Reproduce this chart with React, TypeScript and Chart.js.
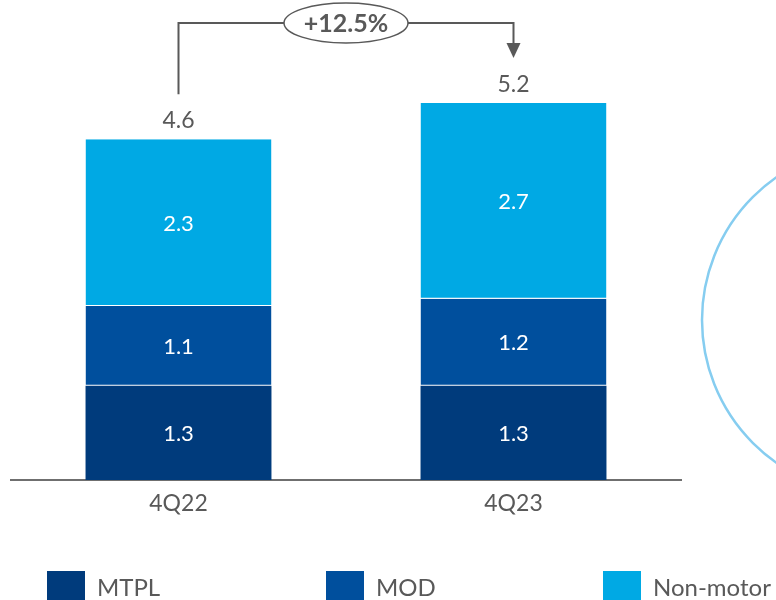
import React, { useEffect, useRef } from "react";
import { Chart, registerables } from "chart.js";

Chart.register(...registerables);

// Quarterly premiums by line of business
const categories = ["4Q22", "4Q23"];
const mtpl = [1.3, 1.3];
const mod = [1.1, 1.2];
const nonMotor = [2.3, 2.7];
const totals = [4.6, 5.2];
const growthLabel = "+12.5%";
const seriesNames = ["MTPL", "MOD", "Non-motor"];
const seriesColors = ["#003b7c", "#004f9d", "#00a9e4"];

const FONT = "Lato, 'Open Sans', sans-serif";
const GREY = "#595959";

const overlay = {
  id: "overlay",
  afterDatasetsDraw(chart: any) {
    const ctx = chart.ctx as CanvasRenderingContext2D;
    const metas = chart.data.datasets.map((_: any, i: number) => chart.getDatasetMeta(i));

    ctx.save();
    // values inside each segment
    ctx.font = `22px ${FONT}`;
    ctx.fillStyle = "#ffffff";
    ctx.textAlign = "center";
    ctx.textBaseline = "middle";
    metas.forEach((meta: any, di: number) => {
      meta.data.forEach((bar: any, j: number) => {
        const v = chart.data.datasets[di].data[j];
        ctx.fillText(v.toFixed(1), bar.x, (bar.y + bar.base) / 2 + 1);
      });
    });

    // totals above each stack
    const topMeta = metas[metas.length - 1];
    const tops: number[] = topMeta.data.map((b: any) => b.y);
    const xs: number[] = topMeta.data.map((b: any) => b.x);
    ctx.font = `23px ${FONT}`;
    ctx.fillStyle = GREY;
    ctx.textBaseline = "alphabetic";
    totals.forEach((t, j) => {
      ctx.fillText(t.toFixed(1), xs[j], tops[j] - 11);
    });

    // growth bracket
    const lineY = 23;
    const gap = 45;
    ctx.strokeStyle = GREY;
    ctx.fillStyle = GREY;
    ctx.lineWidth = 2;
    const arrowH = 15;
    const tipY = tops[1] - gap;
    ctx.beginPath();
    ctx.moveTo(xs[0], tops[0] - gap);
    ctx.lineTo(xs[0], lineY);
    ctx.lineTo(xs[1], lineY);
    ctx.lineTo(xs[1], tipY - arrowH);
    ctx.stroke();
    ctx.beginPath();
    ctx.moveTo(xs[1] - 7, tipY - arrowH);
    ctx.lineTo(xs[1] + 7, tipY - arrowH);
    ctx.lineTo(xs[1], tipY);
    ctx.closePath();
    ctx.fill();

    const mx = (xs[0] + xs[1]) / 2;
    ctx.beginPath();
    ctx.ellipse(mx, lineY, 62, 20, 0, 0, Math.PI * 2);
    ctx.fillStyle = "#ffffff";
    ctx.fill();
    ctx.lineWidth = 1.5;
    ctx.stroke();
    ctx.fillStyle = GREY;
    ctx.font = `bold 25px ${FONT}`;
    ctx.textBaseline = "middle";
    ctx.fillText(growthLabel, mx, lineY + 1);

    // decorative outline circle on the right
    ctx.beginPath();
    ctx.arc(876, 320, 174, 0, Math.PI * 2);
    ctx.strokeStyle = "#86cdf0";
    ctx.lineWidth = 2.5;
    ctx.stroke();

    // legend
    const legendX = [47, 326, 603];
    ctx.font = `24px ${FONT}`;
    ctx.textAlign = "left";
    ctx.textBaseline = "alphabetic";
    chart.data.datasets.forEach((ds: any, i: number) => {
      ctx.fillStyle = ds.backgroundColor;
      ctx.fillRect(legendX[i], 571, 38, 40);
      ctx.fillStyle = GREY;
      ctx.fillText(ds.label, legendX[i] + 50, 596);
    });
    ctx.restore();
  },
};

export default function App() {
  const ref = useRef<HTMLCanvasElement>(null);

  useEffect(() => {
    if (!ref.current) return;
    const values = [mtpl, mod, nonMotor];
    const chart = new Chart(ref.current, {
      type: "bar",
      data: {
        labels: categories,
        datasets: values.map((d, i) => ({
          label: seriesNames[i],
          data: d,
          backgroundColor: seriesColors[i],
          borderColor: "rgba(255,255,255,0.18)",
          borderWidth: i === 0 ? 0 : { bottom: 1, top: 0, left: 0, right: 0 },
          borderSkipped: false,
          barPercentage: 0.555,
          categoryPercentage: 1,
        })),
      },
      options: {
        responsive: false,
        animation: false,
        layout: { padding: { left: 11, right: 95, top: 45, bottom: 0 } },
        plugins: {
          legend: { display: false },
          tooltip: { enabled: false },
        },
        scales: {
          x: {
            stacked: true,
            grid: { display: true, color: "rgba(0,0,0,0)", drawTicks: false },
            border: { display: true, color: "#6f6f6f", width: 2 },
            ticks: { color: GREY, font: { family: FONT, size: 23 }, padding: 10 },
            afterFit: (scale: any) => {
              scale.height = 120;
            },
          },
          y: {
            stacked: true,
            display: false,
            min: 0,
            max: 6,
          },
        },
      },
      plugins: [overlay],
    });
    return () => chart.destroy();
  }, []);

  return (
    <div style={{ position: "absolute", left: 0, top: 0, width: 776, height: 600, background: "#fff" }}>
      <canvas ref={ref} width={776} height={600} />
    </div>
  );
}
